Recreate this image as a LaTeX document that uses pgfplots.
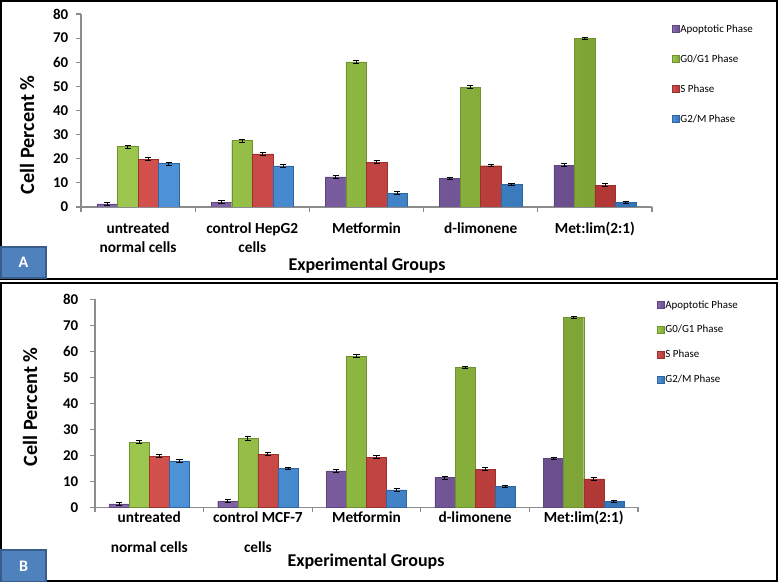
\documentclass[border=0pt]{standalone}
\usepackage{fontspec}
\setmainfont{Carlito}
\usepackage{pgfplots}
\pgfplotsset{compat=1.18}

\definecolor{cApo}{HTML}{7D5CA6}
\definecolor{cGone}{HTML}{94C23E}
\definecolor{cS}{HTML}{CF413E}
\definecolor{cGtwo}{HTML}{3E88D4}
\definecolor{axgray}{HTML}{8C8C8C}
\definecolor{lblfill}{HTML}{4F81BD}
\definecolor{lbldraw}{HTML}{385D8A}

\pgfplotsset{
  cellbars/.style={
    scale only axis,
    ybar=0pt,
    bar width=0.18,
    xmin=0.5, xmax=5.5,
    ymin=0, ymax=80,
    ytick={0,10,...,80},
    xtick={0.5,1.5,...,5.5},
    xticklabels={},
    extra x ticks={1,2,3,4,5},
    axis x line*=bottom, axis y line*=left,
    axis line style={draw=axgray, line width=0.8pt, -},
    tick style={draw=axgray, line width=0.8pt},
    tick align=outside,
    major tick length=3.5pt,
    /pgf/number format/assume math mode=true,
    yticklabel style={font=\bfseries\fontsize{11.2}{13}\selectfont},
    legend cell align=left,
    legend image code/.code={\draw[##1] (0pt,-2.6pt) rectangle (5.2pt,2.6pt);},
    legend style={draw=none, fill=none, inner sep=0pt,
      font=\fontsize{8.2}{9.5}\selectfont, anchor=north west,
      nodes={inner sep=0.6pt, text height=6.5pt, text depth=1.8pt}},
  },
  errs/.style={error bars/.cd, y dir=both, y explicit,
    error bar style={black, line width=0.7pt},
    error mark options={black, rotate=90, mark size=2.3pt, line width=0.7pt}},
  bApo/.style={draw=cApo!75!black, line width=0.3pt, left color=cApo!92!white, middle color=cApo, right color=cApo!85!black},
  bGone/.style={draw=cGone!75!black, line width=0.3pt, left color=cGone!92!white, middle color=cGone, right color=cGone!85!black},
  bS/.style={draw=cS!75!black, line width=0.3pt, left color=cS!92!white, middle color=cS, right color=cS!85!black},
  bGtwo/.style={draw=cGtwo!75!black, line width=0.3pt, left color=cGtwo!92!white, middle color=cGtwo, right color=cGtwo!85!black},
}

\begin{document}
\begin{tikzpicture}[x=0.75pt, y=0.75pt]
\path[use as bounding box] (0,0) rectangle (779,584);

% panel frames
\draw[line width=1.1pt] (1,583) rectangle (777,305);
\draw[line width=1.1pt] (1,301) rectangle (777,3);

% ---------------- Panel A ----------------
\begin{axis}[cellbars,
  at={(60.75pt,282.75pt)}, anchor=south west,
  width=428.25pt, height=144.75pt,
  yticklabel style={xshift=-2.5pt},
  extra x tick labels={{untreated\\normal cells},{control HepG2\\cells},{Metformin},{d-limonene},{Met:lim(2:1)}},
  extra x tick style={major tick length=0pt,
    xticklabel style={align=center, anchor=north, yshift=-8pt,
      font=\bfseries\fontsize{11.5}{14.25}\selectfont}},
  legend style={at={(1.035,0.957)}, row sep=13pt},
]
\addplot[bApo, errs] coordinates {(1,1.3) +- (0,0.6) (2,1.9) +- (0,0.6) (3,12.5) +- (0,0.6) (4,11.8) +- (0,0.5) (5,17.4) +- (0,0.6)};
\addlegendentry{Apoptotic Phase}
\addplot[bGone, errs] coordinates {(1,25.0) +- (0,0.6) (2,27.5) +- (0,0.6) (3,60.2) +- (0,0.6) (4,49.7) +- (0,0.5) (5,69.8) +- (0,0.5)};
\addlegendentry{G0/G1 Phase}
\addplot[bS, errs] coordinates {(1,19.8) +- (0,0.6) (2,22.0) +- (0,0.6) (3,18.6) +- (0,0.6) (4,17.1) +- (0,0.5) (5,9.1) +- (0,0.5)};
\addlegendentry{S Phase}
\addplot[bGtwo, errs] coordinates {(1,18.0) +- (0,0.6) (2,17.0) +- (0,0.6) (3,5.7) +- (0,0.6) (4,9.3) +- (0,0.5) (5,1.9) +- (0,0.5)};
\addlegendentry{G2/M Phase}
\end{axis}

\node[rotate=90, font=\bfseries\fontsize{15.2}{17}\selectfont] at (27,449) {Cell Percent \%};
\node[font=\bfseries\fontsize{13.5}{15}\selectfont] at (367,318) {Experimental Groups};
\draw[lbldraw, line width=1.1pt, fill=lblfill] (1,337) rectangle (46,306);
\node[white, font=\bfseries\fontsize{12}{14}\selectfont] at (23.5,321.5) {A};

% ---------------- Panel B ----------------
\begin{axis}[cellbars,
  at={(71.25pt,57.5pt)}, anchor=south west,
  width=407.25pt, height=156pt,
  bar width=0.185,
  yticklabel style={xshift=-5.5pt},
  extra x tick labels={{untreated\\normal cells},{control MCF-7\\cells},{Metformin},{d-limonene},{Met:lim(2:1)}},
  extra x tick style={major tick length=0pt,
    xticklabel style={align=center, anchor=north, yshift=0.5pt,
      font=\bfseries\fontsize{11.5}{22.5}\selectfont}},
  legend style={at={(1.035,1.005)}, row sep=9.2pt},
]
\addplot[bApo, errs] coordinates {(1,1.3) +- (0,0.6) (2,2.4) +- (0,0.6) (3,14.0) +- (0,0.6) (4,11.4) +- (0,0.5) (5,18.8) +- (0,0.5)};
\addlegendentry{Apoptotic Phase}
\addplot[bGone, errs] coordinates {(1,25.1) +- (0,0.6) (2,26.5) +- (0,0.6) (3,58.2) +- (0,0.6) (4,53.8) +- (0,0.5) (5,73.1) +- (0,0.5)};
\addlegendentry{G0/G1 Phase}
\addplot[bS, errs] coordinates {(1,19.7) +- (0,0.6) (2,20.5) +- (0,0.6) (3,19.3) +- (0,0.5) (4,14.7) +- (0,0.6) (5,10.9) +- (0,0.5)};
\addlegendentry{S Phase}
\addplot[bGtwo, errs] coordinates {(1,17.9) +- (0,0.6) (2,15.0) +- (0,0.5) (3,6.7) +- (0,0.5) (4,8.1) +- (0,0.5) (5,2.2) +- (0,0.5)};
\addlegendentry{G2/M Phase}
\end{axis}

\node[rotate=90, font=\bfseries\fontsize{15.2}{17}\selectfont] at (30,177) {Cell Percent \%};
\node[font=\bfseries\fontsize{13.5}{15}\selectfont] at (366,22) {Experimental Groups};
\draw[lbldraw, line width=1.1pt, fill=lblfill] (1,34) rectangle (46,2.5);
\node[white, font=\bfseries\fontsize{12}{14}\selectfont] at (23.5,18) {B};
\end{tikzpicture}
\end{document}
